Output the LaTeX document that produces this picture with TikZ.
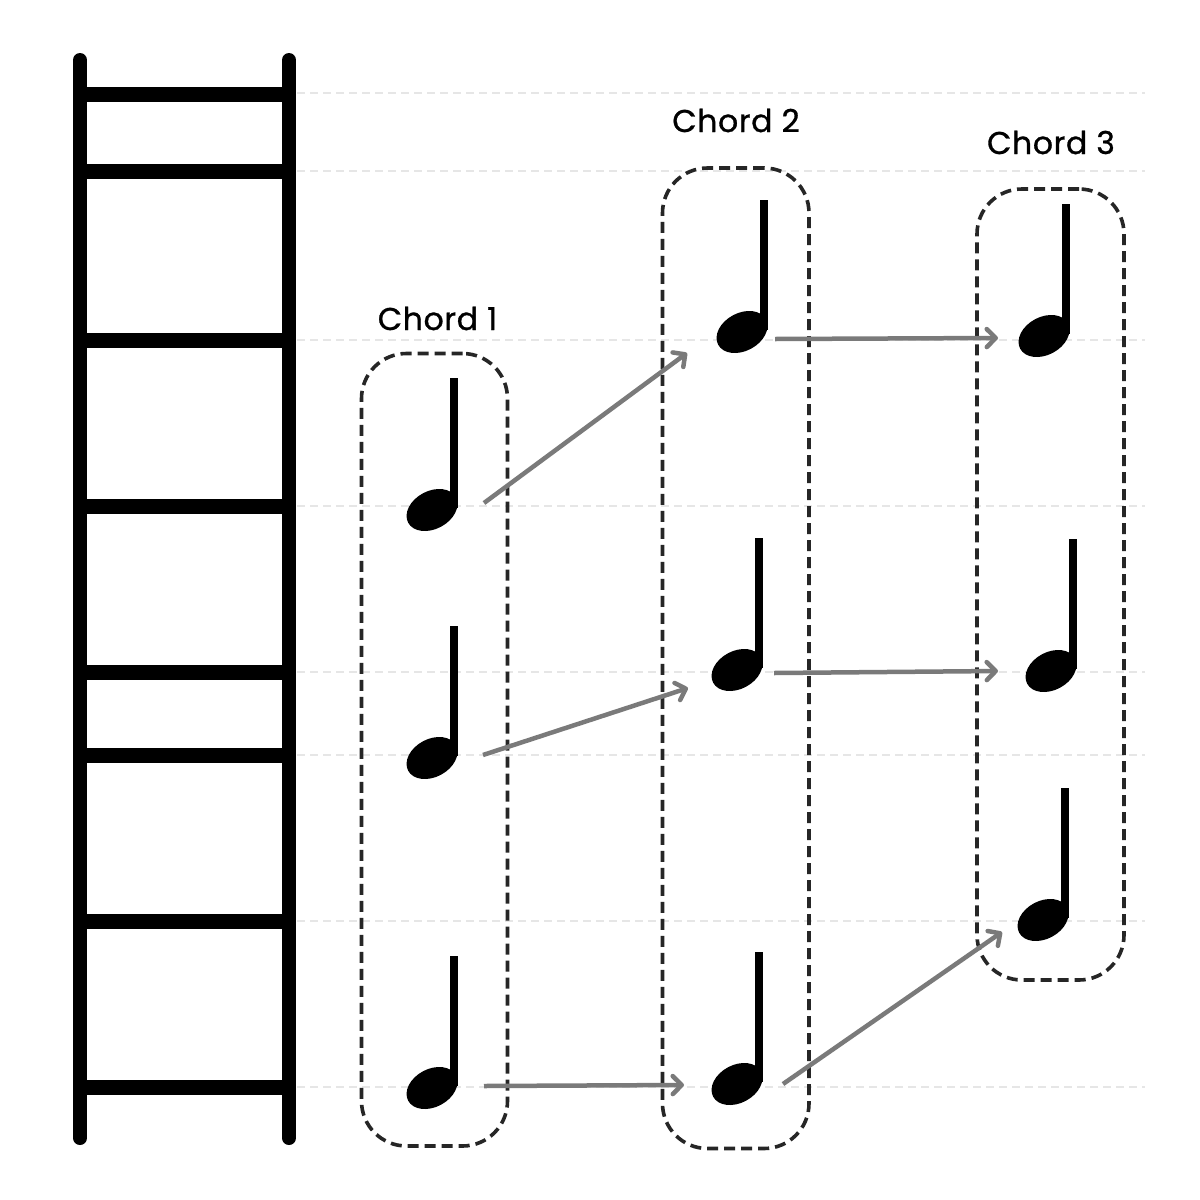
\documentclass[tikz,border=0pt]{standalone}
\usepackage{fontspec}
\setmainfont{Poppins}
\newfontfamily\chordfont{Poppins}[FakeBold=0.9, LetterSpace=2]
\usetikzlibrary{arrows.meta,calc}
\definecolor{guide}{HTML}{E6E6E6}
\definecolor{arrgray}{HTML}{7A7A7A}
\definecolor{boxgray}{HTML}{262626}
\newcommand\qnote[3]{%
  \coordinate (#1) at (#2,#3);
  \begin{scope}[shift={(#1)}]
    \fill[rotate=28] (0,0) ellipse [x radius=27, y radius=19];
    \fill (17.5,-2) rectangle (25.5,-132);
  \end{scope}}
\begin{document}
\begin{tikzpicture}[x=1pt,y=-1pt,
  rail/.style={line width=14pt, line cap=round},
  rung/.style={line width=15pt},
  guideline/.style={draw=guide, line width=2pt, dash pattern=on 8pt off 5pt},
  chordbox/.style={draw=boxgray, line width=3.6pt, dash pattern=on 11pt off 6pt, rounded corners=45pt, rectangle, inner sep=0pt},
  arr/.style={draw=arrgray, line width=4.5pt, -{Straight Barb[length=9pt,width=18pt,round]}},
  chordlabel/.style={font=\chordfont\fontsize{31.5}{31.5}\selectfont, anchor=base, inner sep=0pt}
]
\fill[white] (0,0) rectangle (1200,1200);
\useasboundingbox (0,0) rectangle (1200,1200);

% guide lines
\foreach \y in {93,171,340,506,672,755,921,1087}
  \draw[guideline] (297,\y) -- (1145,\y);

% ladder
\draw[rail] (80,60) -- (80,1138);
\draw[rail] (289,60) -- (289,1138);
\foreach \y in {94,171,340,506,672,755,921,1087}
  \draw[rung] (80,\y) -- (289,\y);

% chord boxes
\node[chordbox, minimum width=146pt, minimum height=792.5pt] (box1) at (434.5,749.75) {};
\node[chordbox, minimum width=146.5pt, minimum height=980.5pt] (box2) at (735.75,658.25) {};
\node[chordbox, minimum width=147pt, minimum height=791pt] (box3) at (1050.5,584.5) {};

% labels
\node[chordlabel] (l1) at (437.5,330) {Chord 1};
\node[chordlabel] (l2) at (736,132) {Chord 2};
\node[chordlabel] (l3) at (1051,154) {Chord 3};

% notes
\qnote{n11}{432}{510}
\qnote{n12}{432}{758}
\qnote{n13}{432}{1088}
\qnote{n21}{742}{332}
\qnote{n22}{737}{670}
\qnote{n23}{737}{1084}
\qnote{n31}{1044}{336}
\qnote{n32}{1051}{671}
\qnote{n33}{1043}{920}

% arrows
\draw[arr] ($(n11)+(52,-7)$) -- ($(n21)+(-55,21)$);
\draw[arr] ($(n12)+(51,-3)$) -- ($(n22)+(-49,18)$);
\draw[arr] ($(n13)+(52,-2)$) -- ($(n23)+(-53,1)$);
\draw[arr] ($(n21)+(33,7)$) -- ($(n31)+(-46,2)$);
\draw[arr] ($(n22)+(37,3)$) -- ($(n32)+(-53,0)$);
\draw[arr] ($(n23)+(46,0)$) -- ($(n33)+(-41,12)$);
\end{tikzpicture}
\end{document}
